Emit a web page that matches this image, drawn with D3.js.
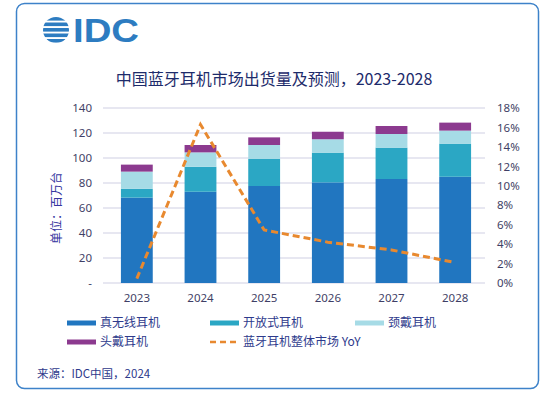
<!DOCTYPE html>
<html>
<head>
<meta charset="utf-8">
<script src="https://cdn.jsdelivr.net/npm/d3@7"></script>
<style>
  body { margin: 0; background: #fff; }
  svg { font-family: "Noto Sans CJK SC", "Noto Sans", sans-serif; }
</style>
</head>
<body>
<svg></svg>
<script>
var width = 553, height = 396;

var years = ['2023', '2024', '2025', '2026', '2027', '2028'];
var tws = [68.3, 73, 77.6, 80.5, 83.2, 85];
var openEar = [7, 20, 21.6, 23.8, 25.1, 26.5];
var neckband = [13.8, 11.5, 11.2, 10.7, 10.9, 10.4];
var headphone = [5.6, 5.9, 6.1, 6, 6.4, 6.4];
var yoy = [0.45, 16.3, 5.45, 4.2, 3.4, 2.1];

var seriesNames = ['真无线耳机', '开放式耳机', '颈戴耳机', '头戴耳机'];
var seriesColors = ['#2176c0', '#2ba7c4', '#a6dbe6', '#8c3a8f'];
var lineName = '蓝牙耳机整体市场 YoY';
var lineColor = '#e8892f';

var leftTicks = [0, 20, 40, 60, 80, 100, 120, 140];
var rightTicks = [0, 2, 4, 6, 8, 10, 12, 14, 16, 18];

var rows = years.map((y, i) => ({
    year: y,
    [seriesNames[0]]: tws[i],
    [seriesNames[1]]: openEar[i],
    [seriesNames[2]]: neckband[i],
    [seriesNames[3]]: headphone[i]
}));

var svg = d3.select('svg')
    .attr('width', width)
    .attr('height', height);

// card
svg.append('rect')
    .attr('x', 16.5).attr('y', 3.5)
    .attr('width', 522).attr('height', 385)
    .attr('rx', 8)
    .attr('fill', '#fff')
    .attr('stroke', '#3d82c9')
    .attr('stroke-width', 1.5);

// logo
var logo = svg.append('g');
logo.append('clipPath').attr('id', 'globe')
    .append('circle').attr('cx', 56).attr('cy', 30).attr('r', 13);
[18, 23.5, 29, 34.5, 40].forEach((y, i) => {
    logo.append('rect')
        .attr('clip-path', 'url(#globe)')
        .attr('x', 40).attr('y', y - 1)
        .attr('width', 32).attr('height', 3.6)
        .attr('fill', '#2d7cc1');
});
logo.append('text')
    .attr('x', 73).attr('y', 42)
    .attr('font-family', 'Arial, "Liberation Sans", sans-serif')
    .attr('font-weight', 'bold')
    .attr('font-size', 33)
    .attr('textLength', 66)
    .attr('lengthAdjust', 'spacingAndGlyphs')
    .attr('fill', '#2d7cc1')
    .text('IDC');

// title
svg.append('text')
    .attr('x', 274).attr('y', 85)
    .attr('text-anchor', 'middle')
    .attr('font-size', 16)
    .attr('fill', '#1d2b6b')
    .text('中国蓝牙耳机市场出货量及预测，2023-2028');

var x = d3.scaleBand()
    .domain(years)
    .range([105, 487])
    .paddingInner(0.5)
    .paddingOuter(0.25);

var y = d3.scaleLinear().domain([0, 140]).range([283, 108]);
var y2 = d3.scaleLinear().domain([0, 18]).range([283, 108]);

// grid
svg.append('g')
    .selectAll('line')
    .data(leftTicks)
    .enter()
    .append('line')
        .attr('x1', 103).attr('x2', 485)
        .attr('y1', d => y(d)).attr('y2', d => y(d))
        .attr('stroke', '#cfcfe4')
        .attr('stroke-width', 1.2);

// left axis
var leftAxis = svg.append('g')
    .attr('transform', 'translate(92,0)')
    .call(d3.axisLeft(y).tickValues(leftTicks).tickSize(0).tickPadding(0)
        .tickFormat(d => d === 0 ? '-' : d));
leftAxis.select('.domain').remove();
leftAxis.selectAll('text')
    .attr('font-size', 11.5)
    .attr('fill', '#3f3f66')
    .attr('font-family', '"Noto Sans", sans-serif');

// right axis
var rightAxis = svg.append('g')
    .attr('transform', 'translate(497,0)')
    .call(d3.axisRight(y2).tickValues(rightTicks).tickSize(0).tickPadding(0)
        .tickFormat(d => d + '%'));
rightAxis.select('.domain').remove();
rightAxis.selectAll('text')
    .attr('font-size', 11.5)
    .attr('fill', '#3f3f66')
    .attr('font-family', '"Noto Sans", sans-serif');

// x axis
var xAxis = svg.append('g')
    .attr('transform', 'translate(0,283)')
    .call(d3.axisBottom(x).tickSize(0).tickPadding(11));
xAxis.select('.domain').remove();
xAxis.selectAll('text')
    .attr('font-size', 11.5)
    .attr('fill', '#3f3f66')
    .attr('font-family', '"Noto Sans", sans-serif');

// y title
svg.append('text')
    .attr('transform', 'translate(61,208) rotate(-90)')
    .attr('text-anchor', 'middle')
    .attr('font-size', 12)
    .attr('fill', '#3535a0')
    .text('单位：百万台');

// stacked bars
var stack = d3.stack().keys(seriesNames)(rows);

svg.append('g')
    .selectAll('g')
    .data(stack)
    .enter()
    .append('g')
        .attr('fill', (d, i) => seriesColors[i])
    .selectAll('rect')
    .data(d => d)
    .enter()
    .append('rect')
        .attr('x', d => x(d.data.year))
        .attr('width', x.bandwidth())
        .attr('y', d => y(d[1]))
        .attr('height', d => y(d[0]) - y(d[1]));

// yoy line
var line = d3.line()
    .x((d, i) => x(years[i]) + x.bandwidth() / 2)
    .y(d => y2(d));

svg.append('path')
    .datum(yoy)
    .attr('d', line)
    .attr('fill', 'none')
    .attr('stroke', lineColor)
    .attr('stroke-width', 3)
    .attr('stroke-dasharray', '7,4');

// legend
var legendItems = [
    { name: seriesNames[0], color: seriesColors[0], x: 67, y: 323 },
    { name: seriesNames[1], color: seriesColors[1], x: 210, y: 323 },
    { name: seriesNames[2], color: seriesColors[2], x: 355, y: 323 },
    { name: seriesNames[3], color: seriesColors[3], x: 67, y: 342 },
    { name: lineName, color: lineColor, x: 210, y: 342, dashed: true }
];

var legend = svg.append('g')
    .selectAll('g')
    .data(legendItems)
    .enter()
    .append('g')
        .attr('transform', d => `translate(${d.x},${d.y})`);

legend.append('line')
    .attr('x1', 0).attr('x2', 29)
    .attr('stroke', d => d.color)
    .attr('stroke-width', d => d.dashed ? 2.5 : 5)
    .attr('stroke-dasharray', d => d.dashed ? '6,4' : null);

legend.append('text')
    .attr('x', 33)
    .attr('dy', '0.35em')
    .attr('font-size', 12)
    .attr('fill', '#2e3a8c')
    .text(d => d.name);

// source
svg.append('text')
    .attr('x', 37).attr('y', 378)
    .attr('font-size', 11.5)
    .attr('fill', '#2e3a8c')
    .text('来源：IDC中国，2024');
</script>
</body>
</html>
